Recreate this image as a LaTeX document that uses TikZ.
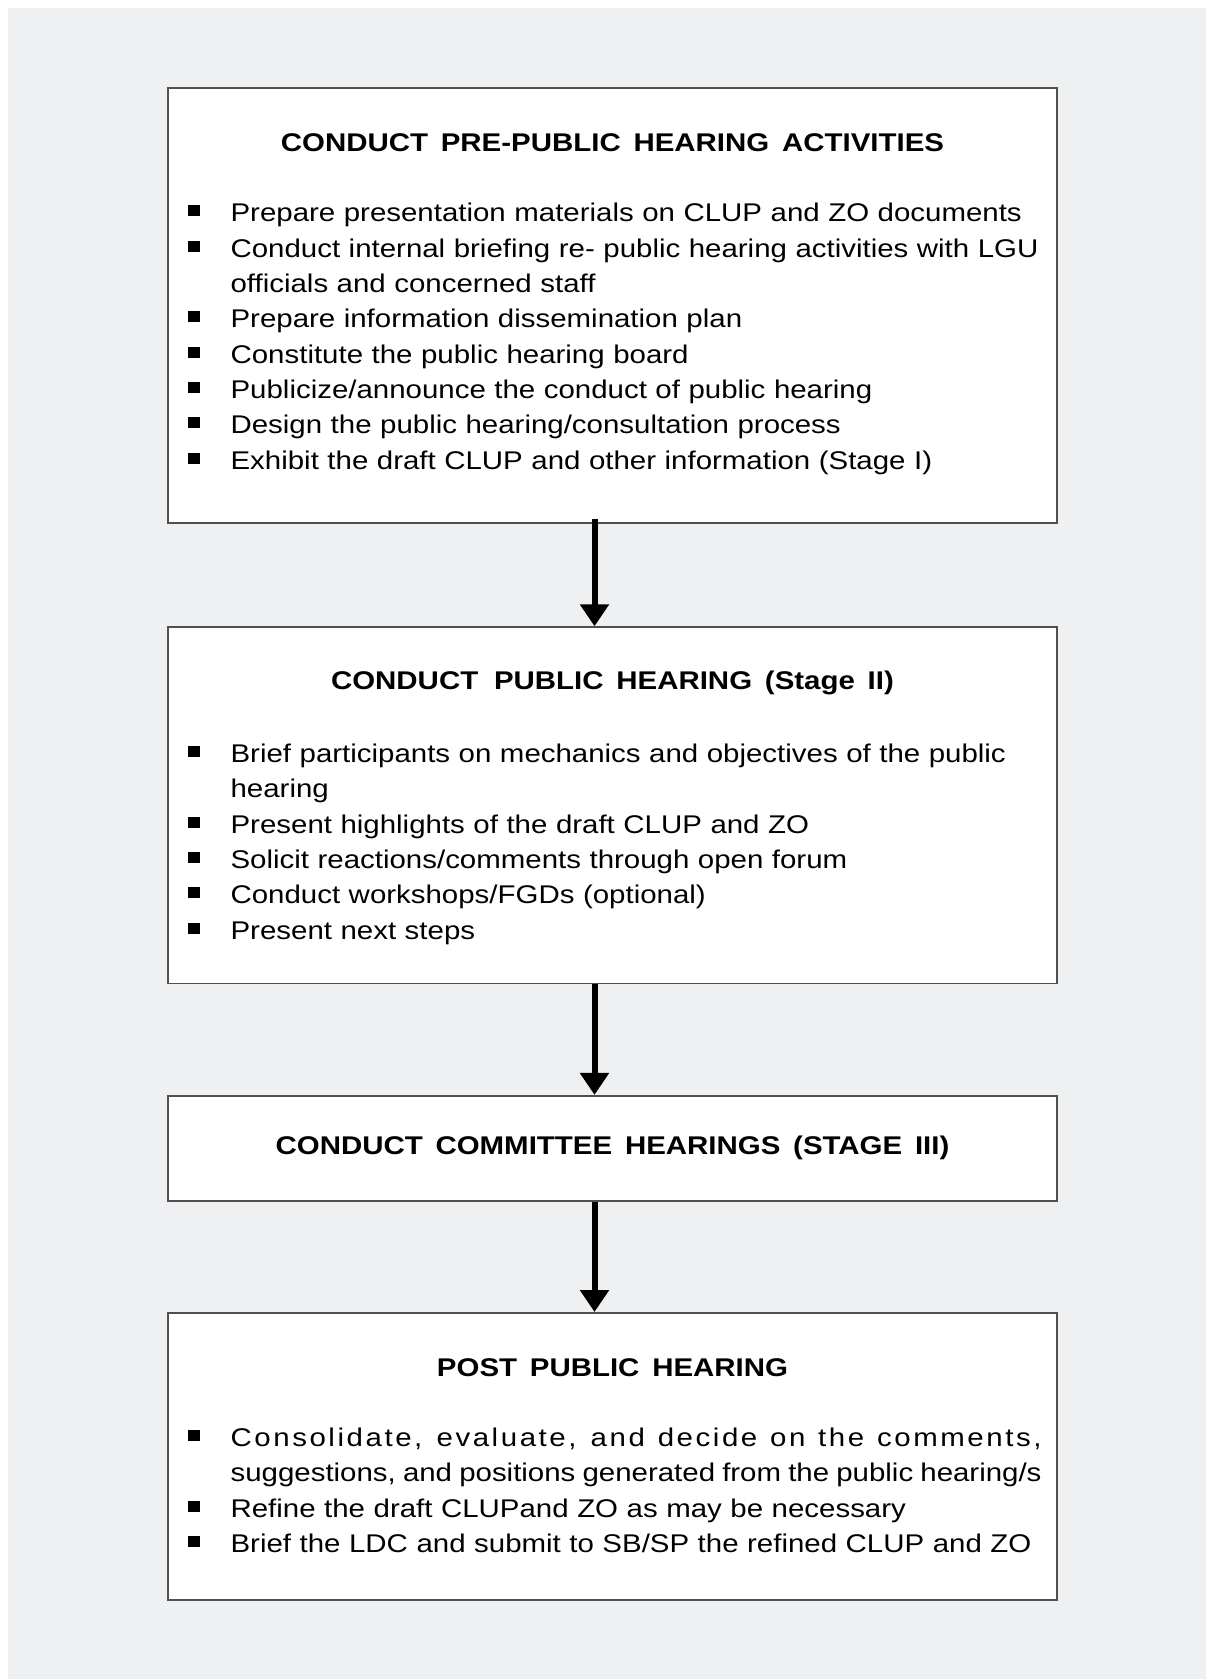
\documentclass[tikz,border=0pt]{standalone}
\usepackage{fontspec}
\setmainfont{Liberation Sans}[FakeStretch=1.15]
\usepackage{tikz}
\usetikzlibrary{arrows.meta,positioning}

\definecolor{bggray}{RGB}{239,240,242}
\definecolor{framegray}{RGB}{80,80,80}
\newcommand{\bodyfont}{\fontsize{12.8pt}{17.68pt}\selectfont}
\newcommand{\titlefont}{\bodyfont\bfseries\spaceskip=6.4pt plus 2pt\relax}
\newcommand{\itm}{\leavevmode\llap{\rule[2.75pt]{6pt}{5.5pt}\hspace{15.5pt}}}
% justified line across the whole item width
\newcommand{\justline}[1]{\makebox[\linewidth][s]{\spaceskip=0.28em plus 1fil minus 0.12em\relax #1}}

\begin{document}
\begin{tikzpicture}[
  x=1pt,y=1pt,
  box/.style={draw=framegray,line width=0.8pt,fill=white,minimum width=444.5pt,
    inner sep=0pt},
  boxtitle/.style={font=\titlefont,inner sep=0pt,anchor=base},
  items/.style={text width=405.5pt,align=left,inner sep=0pt,anchor=base west,
    font=\bodyfont},
  arrow/.style={-{Triangle[width=14pt,length=11pt]},line width=3pt},
]
  \fill[bggray] (4,-4) rectangle (603,-839.5);
  \useasboundingbox (0,0) rectangle (603,-839.5);

  \node[box,minimum height=217.5pt] (pre) at (306.25,-152.75) {};
  \node[box,minimum height=178.25pt,below=51.25pt of pre] (hearing) {};
  \node[box,minimum height=52.5pt,below=55.25pt of hearing,font=\titlefont] (committee)
    {CONDUCT COMMITTEE HEARINGS (STAGE III)};
  \node[box,minimum height=143.5pt,below=55.25pt of committee] (post) {};

  \node[below=32.25pt of pre.north,boxtitle] (pretitle)
    {CONDUCT PRE-PUBLIC HEARING ACTIVITIES};
  \node[below right=67.25pt and 31.5pt of pre.north west,items] (prelist)
    {\itm Prepare presentation materials on CLUP and ZO documents\\
     \itm Conduct internal briefing re- public hearing activities with LGU\\
     officials and concerned staff\\
     \itm Prepare information dissemination plan\\
     \itm Constitute the public hearing board\\
     \itm Publicize/announce the conduct of public hearing\\
     \itm Design the public hearing/consultation process\\
     \itm Exhibit the draft CLUP and other information (Stage I)};

  \node[below=31.75pt of hearing.north,boxtitle] (hearingtitle)
    {CONDUCT\hspace{1.5pt} PUBLIC HEARING (Stage II)};
  \node[below right=68pt and 31.5pt of hearing.north west,items] (hearinglist)
    {\itm Brief participants on mechanics and objectives of the public\\
     hearing\\
     \itm Present highlights of the draft CLUP and ZO\\
     \itm Solicit reactions/comments through open forum\\
     \itm Conduct workshops/FGDs (optional)\\
     \itm Present next steps};

  \node[below=32.3pt of post.north,boxtitle] (posttitle) {POST PUBLIC HEARING};
  \node[below right=67.25pt and 31.5pt of post.north west,items] (postlist)
    {\itm\justline{\addfontfeature{LetterSpace=10}Consolidate, evaluate, and decide on the comments,}\\
     \justline{suggestions, and positions generated from the public hearing/s}\\
     \itm Refine the draft CLUPand ZO as may be necessary\\
     \itm Brief the LDC and submit to SB/SP the refined CLUP and ZO};

  \draw[arrow] ([xshift=-9pt,yshift=2.5pt]pre.south) -- ([xshift=-9pt]hearing.north);
  \draw[arrow] ([xshift=-9pt]hearing.south) -- ([xshift=-9pt]committee.north);
  \draw[arrow] ([xshift=-9pt]committee.south) -- ([xshift=-9pt]post.north);
\end{tikzpicture}
\end{document}
